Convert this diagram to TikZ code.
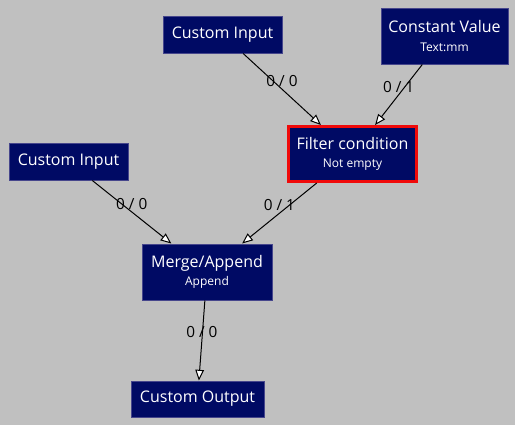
\documentclass[tikz,border=0pt]{standalone}
\usepackage{fontspec}
\setmainfont{Open Sans}
\usetikzlibrary{positioning, arrows.meta}
\definecolor{bggray}{RGB}{192,192,192}
\definecolor{boxblue}{RGB}{0,10,100}
\definecolor{boxline}{RGB}{70,70,140}
\definecolor{filterred}{RGB}{240,10,10}
\newcommand{\subline}{\fontsize{9}{10}\selectfont}
\tikzset{
  block/.style={draw=boxline, line width=0.75pt, fill=boxblue, text=white,
    align=center, inner sep=0pt, font=\fontsize{12}{13}\selectfont},
  link/.style={line width=0.75pt, -{Triangle[length=8pt, width=6.5pt, fill=white]}},
  lbl/.style={midway, yshift=6pt, font=\fontsize{11.5}{13}\selectfont}
}
\begin{document}
\begin{tikzpicture}[x=0.75pt, y=-0.75pt]
      \useasboundingbox[fill=bggray] (0,0) rectangle (515,425);%

      % Inputs
      \node [block, minimum width=89.25pt, minimum height=27.75pt] (In1)
      at (222.5,34.5) {Custom Input};%
      \node [block, minimum width=95.25pt, minimum height=42pt] (Const)
      at (444.5,36) {Constant Value\\[1pt]{\subline Text:mm}};%
      \node [block, minimum width=89.25pt, minimum height=27.75pt] (In2)
      at (68.5,161.5) {Custom Input};%

      % Filter
      \node [block, draw=filterred, line width=2.25pt, minimum width=96pt,
      minimum height=41.25pt] (Filter) at (352.5,154) {Filter
        condition\\[1pt]{\subline Not empty}};%

      % Merge
      \node [block, minimum width=97.5pt, minimum height=42pt] (Merge)
      at (207,272) {Merge/Append\\[1pt]{\subline Append}};%

      % Output
      \node [block, minimum width=99.75pt, minimum height=27pt] (Out)
      at (197.5,399) {Custom Output};%

      % arrows
      \draw [link] (In1) -- (Filter) node [lbl] {0 / 0};%
      \draw [link] (Const) -- (Filter) node [lbl] {0 / 1};%
      \draw [link] (In2) -- (Merge) node [lbl] {0 / 0};%
      \draw [link] (Filter) -- (Merge) node [lbl] {0 / 1};%
      \draw [link] (Merge) -- (Out) node [lbl] {0 / 0};%
    \end{tikzpicture}
\end{document}
